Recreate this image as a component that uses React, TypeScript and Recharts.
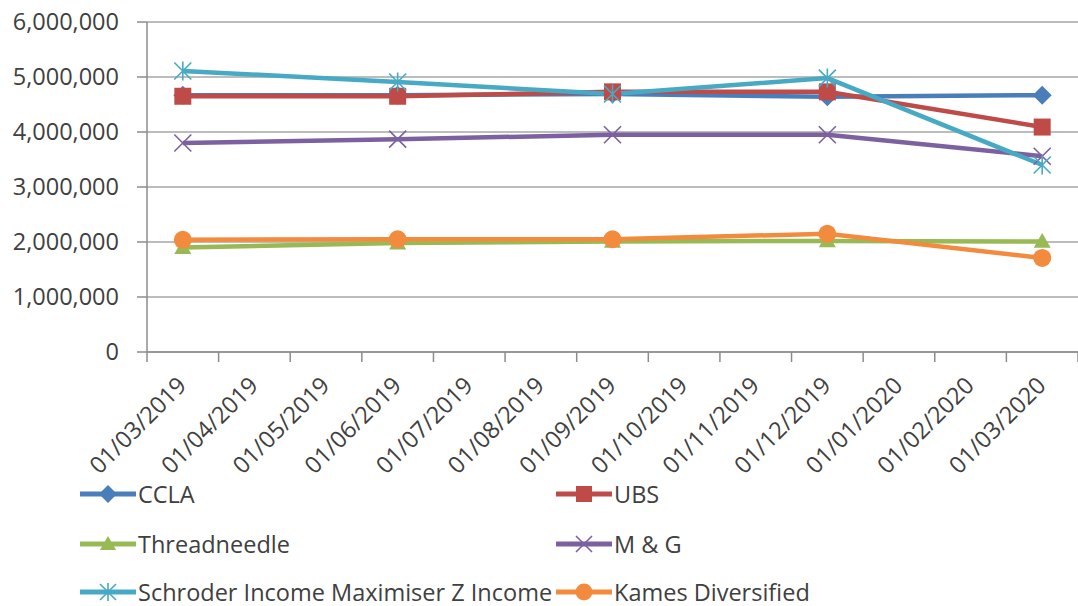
import React from "react";
import { LineChart, Line, XAxis, YAxis, CartesianGrid, Legend } from "recharts";

const months = [
  "01/03/2019", "01/04/2019", "01/05/2019", "01/06/2019", "01/07/2019", "01/08/2019",
  "01/09/2019", "01/10/2019", "01/11/2019", "01/12/2019", "01/01/2020", "01/02/2020", "01/03/2020",
];
const sampleDates = ["01/03/2019", "01/06/2019", "01/09/2019", "01/12/2019", "01/03/2020"];
const ccla = [4670000, 4670000, 4690000, 4640000, 4670000];
const ubs = [4650000, 4650000, 4730000, 4730000, 4090000];
const threadneedle = [1900000, 1980000, 2010000, 2020000, 2010000];
const mg = [3800000, 3870000, 3950000, 3950000, 3560000];
const schroder = [5110000, 4910000, 4690000, 4980000, 3400000];
const kames = [2040000, 2050000, 2050000, 2150000, 1710000];
const yTicks = [0, 1000000, 2000000, 3000000, 4000000, 5000000, 6000000];

const series = [
  { key: "CCLA", values: ccla, color: "#4A7EBB", shape: "diamond" },
  { key: "UBS", values: ubs, color: "#BE4B48", shape: "square" },
  { key: "Threadneedle", values: threadneedle, color: "#98B954", shape: "triangle" },
  { key: "M & G", values: mg, color: "#7D60A0", shape: "x" },
  { key: "Schroder Income Maximiser Z Income", values: schroder, color: "#46AAC5", shape: "star" },
  { key: "Kames Diversified", values: kames, color: "#F38B3F", shape: "circle" },
];

const data = sampleDates.map((d, i) => {
  const row: any = { x: months.indexOf(d) };
  series.forEach((s) => (row[s.key] = s.values[i]));
  return row;
});

const xTicks: number[] = months.flatMap((_, i) => [i - 0.5, i]).concat([months.length - 0.5]);

const FONT = "'Open Sans', 'Liberation Sans', sans-serif";
const FS = 23.5;
const TEXT = "#404040";
const GRID = "#A6A6A6";
const AXIS = "#8C8C8C";

function Marker({ shape, cx, cy, color, s = 8.5 }: any) {
  switch (shape) {
    case "diamond":
      return <polygon points={`${cx},${cy - s - 1} ${cx + s + 1},${cy} ${cx},${cy + s + 1} ${cx - s - 1},${cy}`} fill={color} />;
    case "square":
      return <rect x={cx - s} y={cy - s} width={2 * s} height={2 * s} fill={color} />;
    case "triangle":
      return <polygon points={`${cx},${cy - s} ${cx + s},${cy + s * 0.75} ${cx - s},${cy + s * 0.75}`} fill={color} />;
    case "x":
      return (
        <path d={`M${cx - s},${cy - s}L${cx + s},${cy + s}M${cx - s},${cy + s}L${cx + s},${cy - s}`} stroke={color} strokeWidth={1.6} fill="none" />
      );
    case "star":
      return (
        <path
          d={`M${cx - s},${cy - s}L${cx + s},${cy + s}M${cx - s},${cy + s}L${cx + s},${cy - s}M${cx},${cy - s - 1}L${cx},${cy + s + 1}`}
          stroke={color}
          strokeWidth={1.6}
          fill="none"
        />
      );
    case "circle":
    default:
      return <circle cx={cx} cy={cy} r={s + 0.5} fill={color} />;
  }
}

const XTick = (props: any) => {
  const { x, y, payload } = props;
  const v = payload.value;
  if (!Number.isInteger(v)) {
    return <line x1={x} y1={y} x2={x} y2={y + 10} stroke={AXIS} strokeWidth={1.5} />;
  }
  const ax = x + 5;
  const ay = y + 35;
  return (
    <text x={ax} y={ay} textAnchor="end" transform={`rotate(-45 ${ax} ${ay})`} fill={TEXT} fontSize={FS} fontFamily={FONT}>
      {months[v]}
    </text>
  );
};

const LegendContent = () => {
  const cols = [80, 556];
  const rows = [24, 74, 122];
  return (
    <div style={{ position: "relative", width: 1078, height: 136 }}>
      {series.map((s, i) => {
        const col = cols[i % 2];
        const row = rows[Math.floor(i / 2)];
        return (
          <div
            key={s.key}
            style={{
              position: "absolute",
              left: col,
              top: row - 16,
              height: 32,
              display: "flex",
              alignItems: "center",
              fontFamily: FONT,
              fontSize: FS,
              color: TEXT,
              whiteSpace: "nowrap",
            }}
          >
            <svg width={56} height={24} style={{ marginRight: 2 }}>
              <line x1={0} y1={12} x2={56} y2={12} stroke={s.color} strokeWidth={5} />
              <Marker shape={s.shape} cx={28} cy={12} color={s.color} s={8} />
            </svg>
            <span>{s.key}</span>
          </div>
        );
      })}
    </div>
  );
};

export default function App() {
  return (
    <div style={{ width: 1078, height: 606, background: "#fff" }}>
      <style>{`body{margin:0}`}</style>
      <LineChart width={1078} height={606} data={data} margin={{ top: 22, right: 0, left: 0, bottom: 0 }}>
        <CartesianGrid vertical={false} stroke={GRID} strokeWidth={1.5} />
        <XAxis
          dataKey="x"
          type="number"
          domain={[-0.5, months.length - 0.5]}
          ticks={xTicks}
          interval={0}
          tick={<XTick />}
          tickLine={false}
          tickSize={0}
          tickMargin={0}
          axisLine={{ stroke: AXIS, strokeWidth: 1.5 }}
          height={118}
          allowDataOverflow
        />
        <YAxis
          domain={[0, 6000000]}
          ticks={yTicks}
          interval={0}
          width={147}
          tickSize={10}
          tickMargin={18}
          tickLine={{ stroke: AXIS, strokeWidth: 1.5 }}
          axisLine={{ stroke: AXIS, strokeWidth: 1.5 }}
          tick={{ fill: TEXT, fontSize: FS, fontFamily: FONT }}
          tickFormatter={(v: number) => v.toLocaleString("en-US")}
        />
        <Legend
          verticalAlign="bottom"
          content={<LegendContent />}
          wrapperStyle={{ position: "absolute", left: 0, top: 470, width: 1078, height: 136 }}
        />
        {series.map((s) => (
          <Line
            key={s.key}
            dataKey={s.key}
            name={s.key}
            stroke={s.color}
            strokeWidth={4.5}
            isAnimationActive={false}
            dot={(p: any) => (
              <g key={`${s.key}-${p.index}`}>
                <Marker shape={s.shape} cx={p.cx} cy={p.cy} color={s.color} />
              </g>
            )}
            activeDot={false}
          />
        ))}
      </LineChart>
    </div>
  );
}
